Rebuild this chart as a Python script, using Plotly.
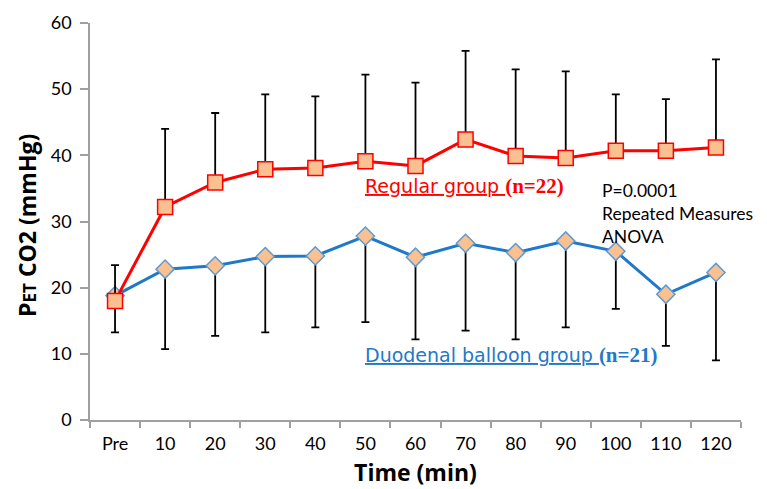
import plotly.graph_objects as go

categories = ["Pre", "10", "20", "30", "40", "50", "60", "70", "80", "90", "100", "110", "120"]
regular_mean = [18.0, 32.2, 35.9, 37.9, 38.1, 39.1, 38.4, 42.4, 39.9, 39.6, 40.7, 40.7, 41.2]
regular_upper = [23.4, 44.0, 46.4, 49.2, 48.9, 52.2, 51.0, 55.8, 53.0, 52.7, 49.2, 48.5, 54.5]
balloon_mean = [18.8, 22.8, 23.3, 24.7, 24.8, 27.8, 24.6, 26.7, 25.3, 27.05, 25.5, 19.0, 22.3]
balloon_lower = [13.25, 10.7, 12.7, 13.25, 14.0, 14.8, 12.2, 13.5, 12.2, 14.0, 16.8, 11.2, 9.0]
y_ticks = [0, 10, 20, 30, 40, 50, 60]

reg_plus = [u - m for u, m in zip(regular_upper, regular_mean)]
bal_minus = [m - l for m, l in zip(balloon_mean, balloon_lower)]
zeros = [0] * len(categories)

fig = go.Figure()
fig.add_trace(go.Scatter(
    x=categories, y=balloon_mean, mode="lines+markers",
    line=dict(color="#1f78c8", width=3),
    marker=dict(symbol="diamond", size=14, color="#fbc08f",
                line=dict(color="#5b9bd5", width=1.5)),
    error_y=dict(type="data", symmetric=False, array=zeros, arrayminus=bal_minus,
                 color="black", thickness=1.8, width=4),
    showlegend=False,
))
fig.add_trace(go.Scatter(
    x=categories, y=regular_mean, mode="lines+markers",
    line=dict(color="#ff0000", width=3),
    marker=dict(symbol="square", size=15, color="#fbc08f",
                line=dict(color="#ff0000", width=1.5)),
    error_y=dict(type="data", symmetric=False, array=reg_plus, arrayminus=zeros,
                 color="black", thickness=1.8, width=4),
    showlegend=False,
))

fig.add_annotation(
    xref="paper", yref="paper", x=0.419, y=0.589, xanchor="left", yanchor="middle",
    showarrow=False,
    text="<u><span style='font-family:DejaVu Sans'>Regular group </span></u>"
         "<span style='font-family:Liberation Serif;font-size:21px'><b>(n=22)</b></span>",
    font=dict(color="#ff0000", size=19),
)
fig.add_annotation(
    xref="paper", yref="paper", x=0.419, y=0.164, xanchor="left", yanchor="middle",
    showarrow=False,
    text="<u><span style='font-family:DejaVu Sans'>Duodenal balloon group </span></u>"
         "<span style='font-family:Liberation Serif;font-size:21px'><b>(n=21)</b></span>",
    font=dict(color="#1f78c8", size=19),
)
fig.add_annotation(
    xref="paper", yref="paper", x=0.783, y=0.61, xanchor="left", yanchor="top",
    showarrow=False, align="left",
    text="P=0.0001<br>Repeated Measures<br>ANOVA",
    font=dict(color="black", size=17.5, family="Lato"),
)
# y-axis title placed as rotated text
fig.add_annotation(
    xref="paper", yref="paper", x=-0.097, y=0.491, xanchor="center", yanchor="middle",
    showarrow=False, textangle=-90,
    text="<b>P<span style='font-size:17px'>ET</span> CO2 (mmHg)</b>",
    font=dict(color="black", size=23, family="Open Sans"),
)

fig.update_layout(
    width=759, height=481,
    margin=dict(l=82, r=26, t=15, b=69),
    plot_bgcolor="white", paper_bgcolor="white",
    font=dict(family="Lato", color="black", size=17),
)
fig.update_xaxes(
    type="category", range=[-0.5, 12.5], tickson="boundaries", ticks="outside",
    ticklen=6, tickwidth=1.5, automargin=False, ticklabelstandoff=7,
    tickcolor="#a0a0a0", showline=True, linecolor="#a0a0a0", linewidth=1.5,
    showgrid=False, tickfont=dict(size=18, family="Lato"),
    title=dict(text="<b>Time (min)</b>", font=dict(size=23, family="Open Sans"), standoff=12),
)
fig.update_yaxes(
    range=[0, 60], tickvals=y_ticks, ticks="outside", ticklen=8, tickwidth=1.5,
    automargin=False, ticklabelstandoff=5,
    tickcolor="#a0a0a0", showline=True, linecolor="#a0a0a0", linewidth=1.5,
    showgrid=False, zeroline=False, tickfont=dict(size=18, family="Lato"),
)

fig.write_html("out.html")
